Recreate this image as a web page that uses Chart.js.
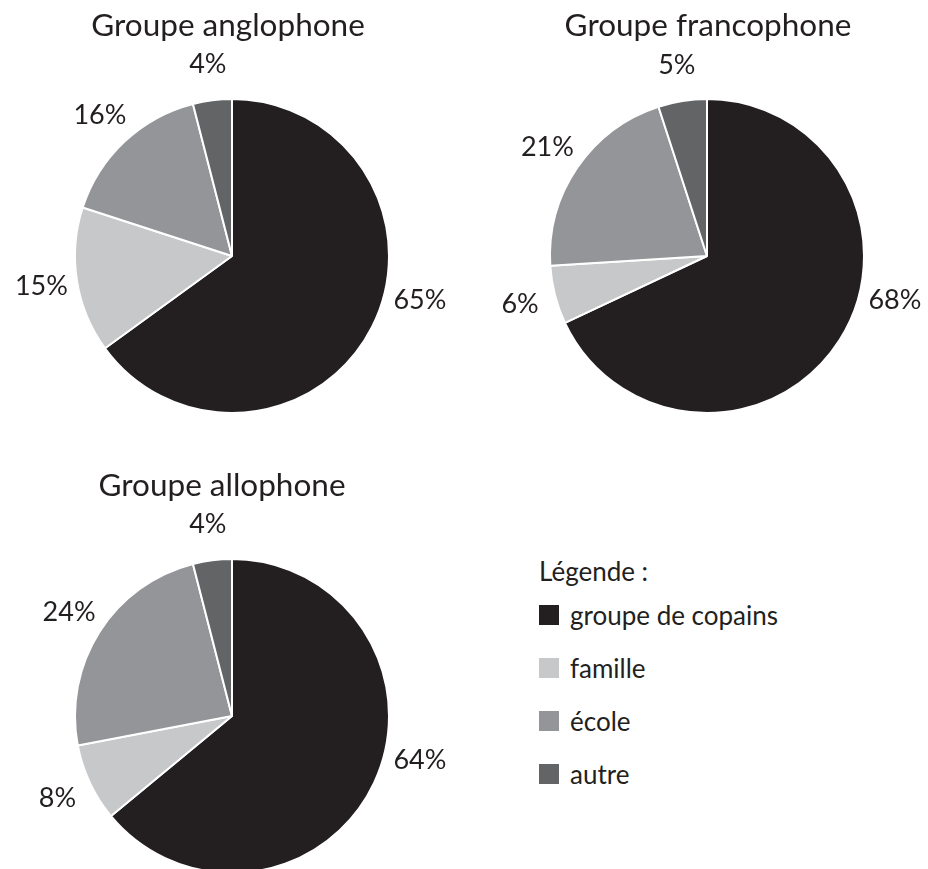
<!DOCTYPE html>
<html>
<head>
<meta charset="utf-8">
<script src="https://cdn.jsdelivr.net/npm/chart.js@4/dist/chart.umd.min.js"></script>
<style>
  html, body { margin: 0; padding: 0; background: #fff; overflow: hidden; }
  body { width: 928px; height: 869px; position: relative; font-family: Lato, sans-serif; color: #231f20; }
  .box { position: absolute; }
  .legend { position: absolute; left: 539px; top: 554px; font-size: 26px; }
  .legend .head { height: 34px; line-height: 34px; }
  .legend .item { height: 53px; display: flex; align-items: center; }
  .legend .sw { width: 20px; height: 20px; margin-right: 11px; }
</style>
</head>
<body>
<div class="box" style="left:0;top:0;width:464px;height:512px"><canvas id="anglo"></canvas></div>
<div class="box" style="left:487px;top:0;width:440px;height:512px"><canvas id="franco"></canvas></div>
<div class="box" style="left:0;top:460px;width:464px;height:512px"><canvas id="allo"></canvas></div>
<div class="legend" id="legend"></div>

<script>
// categories (clockwise from 12 o'clock)
var categories = ['groupe de copains', 'famille', 'école', 'autre'];
var colors = ['#231f20', '#c7c8ca', '#939598', '#636466'];

// percentages by group
var anglophone = [65, 15, 16, 4];
var francophone = [68, 6, 21, 5];
var allophone = [64, 8, 24, 4];

// labels outside the pie + title above it
var outsideLabels = {
  id: 'outsideLabels',
  afterDatasetsDraw: function(chart, args, opts) {
    var ctx = chart.ctx;
    var meta = chart.getDatasetMeta(0);
    var values = chart.data.datasets[0].data;
    ctx.save();
    ctx.fillStyle = '#231f20';
    ctx.textAlign = 'center';
    ctx.textBaseline = 'middle';
    ctx.font = '27px Lato';
    meta.data.forEach(function(arc, i) {
      var p = arc.getProps(['x', 'y', 'startAngle', 'endAngle', 'outerRadius'], true);
      var mid = (p.startAngle + p.endAngle) / 2;
      // big slice: label sits just below 3 o'clock
      if (p.endAngle - p.startAngle > Math.PI) mid = 0.23;
      var d = p.outerRadius + 36;
      ctx.fillText(values[i] + '%', p.x + Math.cos(mid) * d, p.y + Math.sin(mid) * d);
    });
    var c = meta.data[0];
    ctx.font = '31.5px Lato';
    ctx.textBaseline = 'alphabetic';
    ctx.fillText(opts.title, c.x + (opts.dx || 0), c.y - 220);
    ctx.restore();
  }
};

function makePie(id, title, values, dx) {
  var ctx = document.getElementById(id).getContext('2d');
  return new Chart(ctx, {
    type: 'pie',
    data: {
      labels: categories,
      datasets: [{
        data: values,
        backgroundColor: colors,
        borderColor: '#ffffff',
        borderWidth: 2,
        radius: 157
      }]
    },
    options: {
      responsive: true,
      maintainAspectRatio: false,
      animation: false,
      events: [],
      plugins: {
        legend: { display: false },
        tooltip: { enabled: false },
        outsideLabels: { title: title, dx: dx }
      }
    },
    plugins: [outsideLabels]
  });
}

makePie('anglo', 'Groupe anglophone', anglophone, -4);
makePie('franco', 'Groupe francophone', francophone, 1);
makePie('allo', 'Groupe allophone', allophone, -10);

// legend
var lg = document.getElementById('legend');
var html = '<div class="head">Légende :</div>';
categories.forEach(function(c, i) {
  html += '<div class="item"><span class="sw" style="background:' + colors[i] + '"></span>' + c + '</div>';
});
lg.innerHTML = html;
</script>
</body>
</html>
